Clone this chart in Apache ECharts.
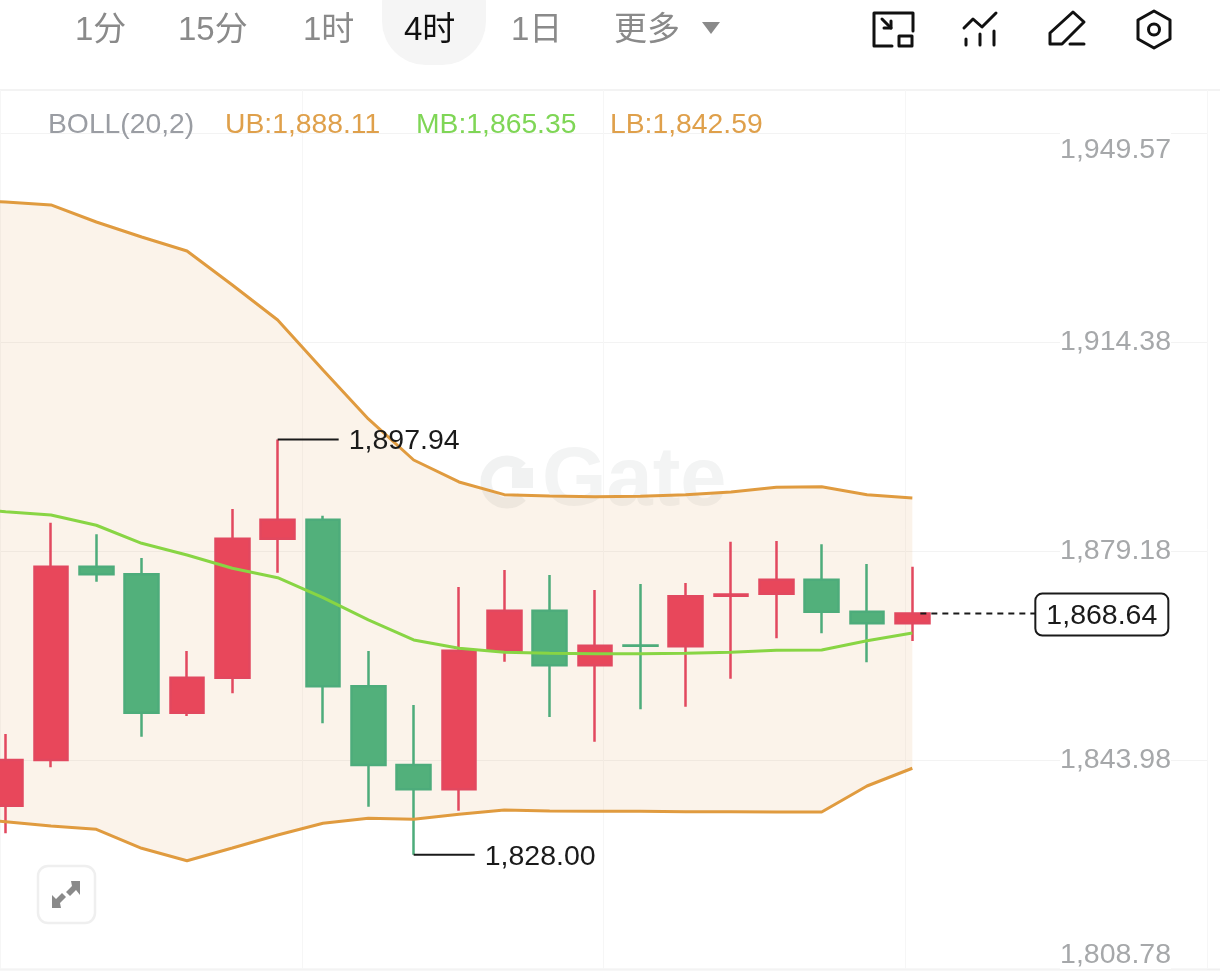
<!DOCTYPE html>
<html>
<head>
<meta charset="utf-8">
<title>BOLL 4时</title>
<style>html,body{margin:0;padding:0;background:#fff}#c{width:1220px;height:975px}</style>
<script src="https://cdn.jsdelivr.net/npm/echarts@6/dist/echarts.min.js"></script>
</head>
<body>
<div id="c"></div>
<script>
// ---- data ----
var timeframes = ['1分', '15分', '1时', '4时', '1日', '更多'];
var activeFrame = '4时';
var yTicks = [1808.78, 1843.98, 1879.18, 1914.38, 1949.57];
var bollHeader = 'BOLL(20,2)';
var ubHeader = 'UB:1,888.11';
var mbHeader = 'MB:1,865.35';
var lbHeader = 'LB:1,842.59';
var watermark = 'Gate';

// first slot only carries the band (its candle is off-screen to the left)
var opens  = [null,1836.28,1843.98,1876.53,1875.25,1851.95,1857.84,1881.25,1884.45,1856.39,1843.14,1839.05,1862.39,1869.12,1859.93,1863.25,1863.13,1871.65,1871.99,1874.34,1868.95,1867.00];
var closes = [null,1843.98,1876.53,1875.25,1851.95,1857.84,1881.25,1884.45,1856.39,1843.14,1839.05,1862.39,1869.12,1859.93,1863.23,1863.23,1871.55,1871.85,1874.34,1868.95,1867.00,1868.64];
var lows   = [null,1831.64,1842.75,1874.01,1847.90,1851.39,1855.21,1875.52,1850.16,1836.12,1828.00,1835.44,1860.53,1851.22,1847.06,1852.52,1852.96,1857.67,1864.48,1865.32,1860.43,1864.02];
var highs  = [null,1848.36,1883.94,1881.99,1878.00,1862.34,1886.25,1897.94,1885.12,1862.34,1853.24,1873.11,1875.98,1875.14,1872.61,1873.62,1873.79,1880.74,1880.86,1880.31,1876.99,1876.53];
var ub = [1938.29,1937.95,1937.45,1934.58,1932.06,1929.70,1923.97,1918.08,1909.66,1901.41,1894.50,1890.80,1888.66,1888.44,1888.32,1888.39,1888.66,1889.11,1889.91,1890.01,1888.66,1888.11];
var mb = [1886.42,1885.80,1885.24,1883.51,1880.47,1878.50,1876.26,1874.68,1871.31,1867.56,1864.19,1862.79,1862.12,1861.95,1861.88,1861.88,1861.95,1862.12,1862.45,1862.51,1864.07,1865.35];
var lb = [1834.21,1833.59,1832.87,1832.31,1829.11,1827.02,1829.16,1831.35,1833.32,1834.16,1833.99,1834.84,1835.56,1835.39,1835.34,1835.34,1835.27,1835.27,1835.22,1835.22,1839.60,1842.59];
var extremes = [[7, 1897.94], [10, 1828.00]];
var lastPrice = 1868.64;
var emptySlots = 6;

// ---- build ----
var categories = [];
for (var i = 0; i < opens.length + emptySlots; i++) categories.push(String(i));
var candleData = opens.map(function (o, i) {
  return o === null ? '-' : [o, closes[i], lows[i], highs[i]];
});
var fmt = function (v) {
  return v.toLocaleString('en-US', {minimumFractionDigits: 2, maximumFractionDigits: 2});
};
var FONT = '"Liberation Sans","Noto Sans CJK SC",sans-serif';
var INK = '#111';
var strokeStyle = {fill:'none', stroke:INK, lineWidth:3, lineJoin:'round', lineCap:'round'};

var graphics = [
  {type:'rect', z:0, shape:{x:382,y:-40,width:104,height:105,r:44}, style:{fill:'#F5F5F5'}},
  {type:'line', z:0, shape:{x1:0,y1:90,x2:1220,y2:90}, style:{stroke:'#F3F3F3',lineWidth:2}},
  {type:'line', z:0, shape:{x1:0,y1:969.5,x2:1220,y2:969.5}, style:{stroke:'#F0F0F0',lineWidth:2}},
  {type:'polygon', z:3, shape:{points:[[702,22],[720,22],[711,34]]}, style:{fill:'#8A8A8A'}}
];
var frameX = [75, 178, 303, 404, 511, 614];
timeframes.forEach(function (t, i) {
  graphics.push({type:'text', z:3, style:{text:t, x:frameX[i], y:31, verticalAlign:'middle', align:'left',
    font:'33px ' + FONT, fill: t === activeFrame ? '#111' : '#8A8A8A'}});
});
[[bollHeader,48,'#9A9DA3'],[ubHeader,225,'#DFA04B'],[mbHeader,416,'#7FD656'],[lbHeader,610,'#DFA04B']].forEach(function (h) {
  graphics.push({type:'text', z:3, style:{text:h[0], x:h[1], y:125, verticalAlign:'middle', align:'left', font:'28.3px ' + FONT, fill:h[2]}});
});
function pl(points) {
  return {type:'polyline', z:3, shape:{points:points}, style:strokeStyle};
}
function pg(points) {
  return {type:'polygon', z:3, shape:{points:points}, style:strokeStyle};
}
function arrowFill(points) {
  return {type:'polygon', z:3, shape:{points:points}, style:{fill:'#8A8A8A'}};
}
graphics.push(
  pl([[913,31],[913,13],[874,13],[874,46],[892,46]]),
  pg([[899,36],[912,36],[912,46],[899,46]]),
  pl([[882,19],[891,28]]),
  pl([[891,21],[891,28],[884,28]]),
  pl([[964,28],[973,19],[982,27],[996,13]]),
  pl([[966,39],[966,45]]),
  pl([[980,34],[980,45]]),
  pl([[994,31],[994,45]]),
  pg([[1073,12],[1084,22],[1062,44],[1050,44],[1050,33]]),
  pl([[1070,44],[1084,44]]),
  pg([[1154,11],[1170,20],[1170,39],[1154,48],[1138,39],[1138,20]]),
  {type:'circle', z:3, shape:{cx:1154,cy:29.5,r:5.5}, style:strokeStyle},
  {type:'rect', z:3, shape:{x:38,y:866,width:57,height:57,r:10}, style:{fill:'#fff',stroke:'#EFEFEF',lineWidth:2.5}},
  arrowFill([[71,881],[80,881],[80,895],[76,890],[70,896],[66,892],[72,886]]),
  arrowFill([[61,908],[52,908],[52,895],[56,899],[62,893],[66,897],[60,903]]),
  // watermark
  {type:'arc', z:0, shape:{cx:507,cy:482,r:21,startAngle:Math.PI*0.25,endAngle:Math.PI*1.75,clockwise:true}, style:{fill:'none',stroke:'#F1F2F2',lineWidth:11}},
  {type:'rect', z:0, shape:{x:512,y:468,width:21,height:20}, style:{fill:'#F1F2F2'}},
  {type:'text', z:0, style:{text:watermark, x:542, y:482, verticalAlign:'middle', align:'left', font:'bold 83px ' + FONT, fill:'#F3F4F4'}}
);

var chart = echarts.init(document.getElementById('c'), null, {renderer:'canvas', width:1220, height:975});
chart.setOption({
  animation: false,
  backgroundColor: '#fff',
  graphic: {elements: graphics},
  grid: [
    {left:-62.33, top:133, width:1269.33, height:836, show:false, outerBoundsMode:'none'},
    {left:0, top:90, width:1207, height:879, show:false, outerBoundsMode:'none'}
  ],
  xAxis: [
    {type:'category', gridIndex:0, data:categories, boundaryGap:true,
     axisLine:{show:false}, axisTick:{show:false}, axisLabel:{show:false}, splitLine:{show:false}},
    {type:'value', gridIndex:1, min:0, max:4, interval:1,
     axisLine:{show:false}, axisTick:{show:false}, axisLabel:{show:false},
     splitLine:{show:true, lineStyle:{color:'#F6F6F6', width:1}}}
  ],
  yAxis: [
    {type:'value', gridIndex:0, position:'right', min:yTicks[0], max:yTicks[4],
     axisLine:{show:false},
     axisTick:{show:false, customValues:yTicks},
     splitLine:{show:true, lineStyle:{color:'#F3F3F3', width:1}},
     axisLabel:{inside:true, margin:36, customValues:yTicks, color:'#A6A8AA',
       fontFamily:FONT, fontSize:28.5, backgroundColor:'#fff', padding:[3,0,0,0],
       verticalAlignMinLabel:'bottom', verticalAlignMaxLabel:'top',
       formatter:function (v) { return fmt(v); }}},
    {type:'value', gridIndex:1, show:false, min:0, max:1}
  ],
  series: [
    {type:'custom', name:'band', xAxisIndex:0, yAxisIndex:0, z:1, silent:true, clip:true,
     data: ub.map(function (u, i) { return [i, u, lb[i]]; }),
     encode:{x:0, y:[1,2]},
     renderItem:function (params, api) {
       if (params.dataIndex !== 0) return null;
       var pts = [];
       ub.forEach(function (v, i) { pts.push(api.coord([i, v])); });
       for (var k = lb.length - 1; k >= 0; k--) pts.push(api.coord([k, lb[k]]));
       return {type:'polygon', shape:{points:pts}, style:{fill:'rgba(215,135,45,0.1)'}};
     }},
    {type:'candlestick', name:'K', xAxisIndex:0, yAxisIndex:0, z:3, barWidth:34, data:candleData,
     itemStyle:{color:'#E8475B', color0:'#52B07B', borderColor:'#E2485F', borderColor0:'#4DAC7B', borderWidth:2.5}},
    {type:'line', name:'UB', xAxisIndex:0, yAxisIndex:0, z:4, data:ub, symbol:'none', lineStyle:{color:'#E09B3F', width:3}},
    {type:'line', name:'MB', xAxisIndex:0, yAxisIndex:0, z:4, data:mb, symbol:'none', lineStyle:{color:'#88D544', width:3}},
    {type:'line', name:'LB', xAxisIndex:0, yAxisIndex:0, z:4, data:lb, symbol:'none', lineStyle:{color:'#E09B3F', width:3}},
    {type:'custom', name:'extremes', xAxisIndex:0, yAxisIndex:0, z:6, silent:true, clip:false,
     data: extremes, encode:{x:0, y:1},
     renderItem:function (params, api) {
       var p = api.coord([api.value(0), api.value(1)]);
       return {type:'group', children:[
         {type:'line', shape:{x1:p[0], y1:p[1], x2:p[0]+61, y2:p[1]}, style:{stroke:'#1a1a1a', lineWidth:2}},
         {type:'text', style:{text:fmt(api.value(1)), x:p[0]+71, y:p[1]+2, align:'left', verticalAlign:'middle',
           textAlign:'left', textVerticalAlign:'middle', font:'28.5px ' + FONT, fill:'#1a1a1a'}}
       ]};
     }},
    {type:'custom', name:'last', xAxisIndex:0, yAxisIndex:0, z:6, silent:true, clip:false,
     data: [[opens.length - 1, lastPrice]], encode:{x:0, y:1},
     renderItem:function (params, api) {
       var p = api.coord([api.value(0), api.value(1)]);
       var x0 = p[0] + 123;
       return {type:'group', children:[
         {type:'line', shape:{x1:p[0]+8, y1:p[1], x2:x0, y2:p[1]}, style:{stroke:'#1a1a1a', lineWidth:2, lineDash:[6,5]}},
         {type:'rect', shape:{x:x0, y:p[1]-20, width:133, height:42, r:7}, style:{fill:'#fff', stroke:'#1a1a1a', lineWidth:2}},
         {type:'text', style:{text:fmt(api.value(1)), x:x0+66.5, y:p[1]+2.5, align:'center', verticalAlign:'middle',
           textAlign:'center', textVerticalAlign:'middle', font:'28.5px ' + FONT, fill:'#1a1a1a'}}
       ]};
     }}
  ]
});
</script>
</body>
</html>
